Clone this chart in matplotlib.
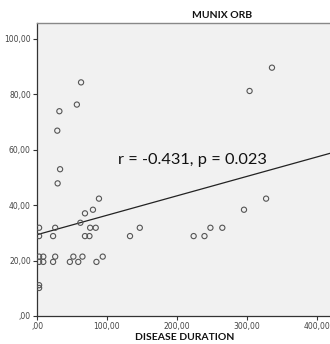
import matplotlib.pyplot as plt
import numpy as np

# disease duration (x) and MUNIX ORB (y)
duration = [3, 3, 3, 3, 9, 9, 3, 3, 23, 26, 26, 23, 29.5, 47, 52, 59, 65, 62,
            68.6, 68.6, 75, 76, 80, 84, 85, 88.6, 94, 133, 147, 33,
            63, 57, 32, 29, 336, 304, 327.6, 296, 248, 265, 224, 239.5]
munix = [31.8, 28.8, 21.4, 19.5, 21.4, 19.5, 11.1, 10.1, 28.8, 31.8, 21.4, 19.5,
         47.8, 19.5, 21.4, 19.5, 21.4, 33.6, 37, 28.8, 28.8, 31.8, 38.3, 31.8,
         19.5, 42.3, 21.4, 28.8, 31.8, 52.9, 84.2, 76.2, 73.8, 66.8, 89.5, 81.1,
         42.3, 38.3, 31.8, 31.8, 28.8, 28.8]

fit_intercept = 29.3
fit_slope = 0.07

xticks = [0, 100, 200, 300, 400]
yticks = [0, 20, 40, 60, 80, 100]

fig = plt.figure(figsize=(3.30, 3.44), dpi=100)
ax = fig.add_axes([37 / 330, 1 - 316 / 344, 1 - 37 / 330, (316 - 23) / 344])
ax.set_facecolor('#f1f1f1')

ax.scatter(duration, munix, s=14, facecolors='none', edgecolors='#555555',
           linewidths=0.8, zorder=3)

xs = np.array([0, 419])
ax.plot(xs, fit_intercept + fit_slope * xs, color='#222222', lw=0.9, zorder=2)

ax.set_xlim(0, 419)
ax.set_ylim(0, 105.6)
ax.set_xticks(xticks)
ax.set_yticks(yticks)
ax.set_xticklabels([',00' if t == 0 else '%d,00' % t for t in xticks])
ax.set_yticklabels([',00' if t == 0 else '%d,00' % t for t in yticks])
ax.tick_params(labelsize=5.5, labelcolor='#444444', length=3, width=0.8,
               color='#333333', pad=1.5)

for side in ['left', 'bottom']:
    ax.spines[side].set_color('#333333')
    ax.spines[side].set_linewidth(0.9)
ax.spines['top'].set_color('#888888')
ax.spines['top'].set_linewidth(1.0)
ax.spines['right'].set_visible(False)

ax.text((192.5 - 37) / 293, (316 - 164) / 293, 'r = -0.431, p = 0.023',
        transform=ax.transAxes, ha='center', va='baseline', fontsize=11.8,
        family='Lato', color='#111111')

fig.text(222 / 330, 1 - 15 / 344, 'MUNIX ORB', ha='center', va='center',
         fontsize=7.5, fontweight='bold', family='Lato', color='#111111')
fig.text(185 / 330, 1 - 338 / 344, 'DISEASE DURATION', ha='center', va='center',
         fontsize=7.5, fontweight='bold', family='Lato', color='#111111')

fig.savefig('out.png', dpi=100)
